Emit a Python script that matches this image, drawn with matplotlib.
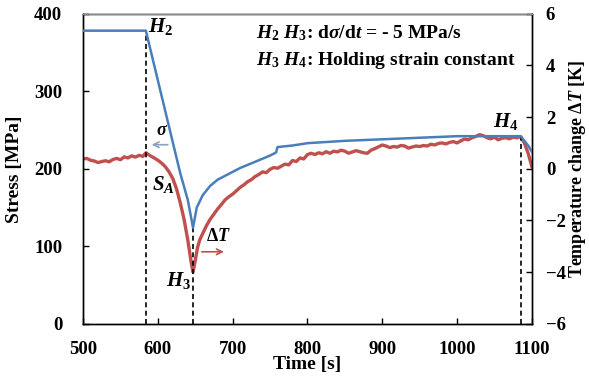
import numpy as np
import matplotlib
matplotlib.use('Agg')
import matplotlib.pyplot as plt

# stress curve (left axis)
t_stress = [500, 584, 600, 616, 630, 640, 647, 652, 660, 670, 680, 690, 700, 710, 720,
            730, 740, 750, 758, 760, 780, 800, 850, 900, 950, 1000, 1050, 1085, 1095, 1100]
stress = [378, 378, 314, 250, 194, 160, 124, 150, 166, 178, 186, 191, 196, 201, 205,
          209, 213, 217, 221, 228, 230, 233, 236, 238, 240, 242, 242, 242, 230, 222]

# temperature change (right axis)
t_temp = [500, 505, 510, 515, 520, 525, 530, 535, 540, 545, 550, 555, 560, 565, 570, 575, 580, 584,
          590, 595, 600, 605, 610, 615, 620, 625, 630, 635, 640, 645, 647, 650, 653, 656, 660, 665,
          670, 675, 680, 685, 690, 695, 700, 705, 710, 715, 720, 725, 730, 735, 740, 745, 750, 755,
          760, 765, 770, 775, 780, 785, 790, 795, 800, 805, 810, 815, 820, 825, 830, 835, 840, 845,
          850, 855, 860, 865, 870, 875, 880, 885, 890, 895, 900, 905, 910, 915, 920, 925, 930, 935,
          940, 945, 950, 955, 960, 965, 970, 975, 980, 985, 990, 995, 1000, 1005, 1010, 1015, 1020,
          1025, 1030, 1035, 1040, 1045, 1050, 1055, 1060, 1065, 1070, 1075, 1080, 1085, 1090, 1095, 1100]
dT = [0.38, 0.40, 0.33, 0.30, 0.24, 0.28, 0.31, 0.27, 0.36, 0.40, 0.35, 0.46, 0.42, 0.50, 0.45, 0.52, 0.48, 0.62,
      0.50, 0.42, 0.33, 0.22, 0.08, -0.12, -0.38, -0.78, -1.32, -1.95, -2.75, -3.70, -4.00, -3.55, -3.05, -2.75, -2.50, -2.20,
      -1.95, -1.75, -1.55, -1.38, -1.20, -1.08, -0.98, -0.85, -0.72, -0.62, -0.50, -0.42, -0.30, -0.22, -0.12, -0.15, -0.02, 0.05,
      0.02, 0.10, 0.18, 0.15, 0.32, 0.28, 0.42, 0.38, 0.55, 0.60, 0.55, 0.62, 0.58, 0.66, 0.60, 0.68, 0.65, 0.72,
      0.68, 0.60, 0.65, 0.70, 0.66, 0.62, 0.60, 0.72, 0.78, 0.85, 0.92, 0.88, 0.82, 0.86, 0.84, 0.90, 0.88, 0.80,
      0.84, 0.88, 0.86, 0.90, 0.88, 0.95, 0.92, 0.98, 1.00, 0.96, 1.02, 1.05, 1.00, 1.08, 1.15, 1.12, 1.20,
      1.25, 1.32, 1.28, 1.20, 1.16, 1.22, 1.12, 1.18, 1.20, 1.16, 1.22, 1.20, 1.24, 1.00, 0.60, 0.08]

x_ticks = [500, 600, 700, 800, 900, 1000, 1100]
y_ticks = [0, 100, 200, 300, 400]
y2_ticks = [-6, -4, -2, 0, 2, 4, 6]

plt.rcParams['font.family'] = ['Liberation Serif', 'DejaVu Serif']
plt.rcParams['font.weight'] = 'bold'
plt.rcParams['mathtext.fontset'] = 'custom'
plt.rcParams['mathtext.it'] = 'Liberation Serif:italic:bold'
plt.rcParams['mathtext.rm'] = 'Liberation Serif:bold'
plt.rcParams['mathtext.bf'] = 'Liberation Serif:bold'

blue = '#4A7EBB'
red = '#C0504D'

fig = plt.figure(figsize=(5.89, 3.78), dpi=100)
ax = fig.add_axes([0.141, 0.143, 0.762, 0.821])
ax2 = ax.twinx()

ax.plot(t_stress, stress, color=blue, lw=1.8, zorder=3)
ax2.plot(t_temp, dT, color=red, lw=2.4, zorder=2)

ax.set_xlim(500, 1100)
ax.set_ylim(0, 400)
ax2.set_ylim(-6, 6)
ax.set_xticks(x_ticks)
ax.set_yticks(y_ticks)
ax2.set_yticks(y2_ticks)
ax.set_zorder(ax2.get_zorder() + 1)
ax.patch.set_visible(False)

for a in (ax, ax2):
    a.tick_params(direction='in', length=4, labelsize=13.5, width=1)
    for s in a.spines.values():
        s.set_linewidth(1.0)
ax.tick_params(axis='x', pad=12)
ax.tick_params(axis='y', pad=15)
ax2.tick_params(axis='y', pad=10)
ax.spines['top'].set_color('#888888')

# dashed markers
ax.plot([584, 584], [0, 378], 'k--', lw=1.2, dashes=(3, 2))
ax.plot([647, 647], [0, 130], 'k--', lw=1.2, dashes=(3, 2))
ax.plot([1085, 1085], [0, 242], 'k--', lw=1.2, dashes=(3, 2))

tfs = 15
ax.text(587, 370, r'$H_2$', fontsize=tfs, va='bottom')
ax.text(645, 42, r'$H_3$', fontsize=tfs, ha='right', va='bottom')
ax.text(1082, 248, r'$H_4$', fontsize=tfs, ha='right', va='bottom')
ax.text(592, 166, r'$S_A$', fontsize=tfs, va='bottom')
ax.text(598, 238, r'$\sigma$', fontsize=13, va='bottom')
ax.annotate('', xy=(588, 231), xytext=(617, 231),
            arrowprops=dict(arrowstyle='->', color='#8CA0C0', lw=1.2))
ax.text(664, 102, r'$\Delta T$', fontsize=13, va='bottom')
ax.annotate('', xy=(692, 93), xytext=(655, 93),
            arrowprops=dict(arrowstyle='->', color=red, lw=1.2))

ax.text(0.385, 0.937, r'$H_2\ H_3$: d$\sigma$/d$t$ = - 5 MPa/s', transform=ax.transAxes,
        fontsize=14, va='center')
ax.text(0.385, 0.85, r'$H_3\ H_4$: Holding strain constant', transform=ax.transAxes,
        fontsize=14, va='center')

ax.set_xlabel('Time [s]', fontsize=14, fontweight='bold', labelpad=-1)
ax.set_ylabel('Stress [MPa]', fontsize=14, fontweight='bold', labelpad=8)
ax2.set_ylabel(r'Temperature change $\Delta T$ [K]', fontsize=13, fontweight='bold', labelpad=1)

fig.savefig('out.png', dpi=100)
